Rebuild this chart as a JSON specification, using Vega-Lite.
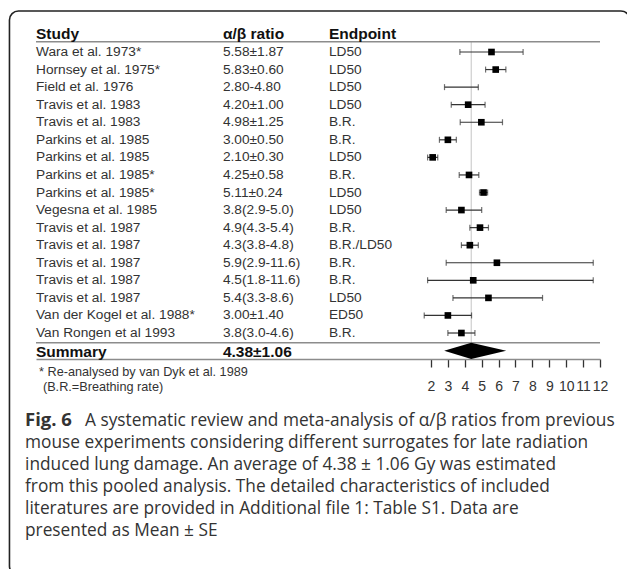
{
  "$schema": "https://vega.github.io/schema/vega-lite/v6.json",
  "autosize": "none",
  "width": 564,
  "height": 359,
  "padding": {"left": 36, "top": 0, "right": 27, "bottom": 210},
  "background": "white",
  "config": {"view": {"stroke": null}, "text": {"font": "Liberation Sans"}},
  "data": {"values": [
    {"row": 1, "study": "Wara et al. 1973*", "ratio": "5.58±1.87", "endpoint": "LD50", "est": 5.58, "lo": 3.71, "hi": 7.45},
    {"row": 2, "study": "Hornsey et al. 1975*", "ratio": "5.83±0.60", "endpoint": "LD50", "est": 5.83, "lo": 5.23, "hi": 6.43},
    {"row": 3, "study": "Field et al. 1976", "ratio": "2.80-4.80", "endpoint": "LD50", "est": null, "lo": 2.80, "hi": 4.80},
    {"row": 4, "study": "Travis et al. 1983", "ratio": "4.20±1.00", "endpoint": "LD50", "est": 4.20, "lo": 3.20, "hi": 5.20},
    {"row": 5, "study": "Travis et al. 1983", "ratio": "4.98±1.25", "endpoint": "B.R.", "est": 4.98, "lo": 3.73, "hi": 6.23},
    {"row": 6, "study": "Parkins et al. 1985", "ratio": "3.00±0.50", "endpoint": "B.R.", "est": 3.00, "lo": 2.50, "hi": 3.50},
    {"row": 7, "study": "Parkins et al. 1985", "ratio": "2.10±0.30", "endpoint": "LD50", "est": 2.10, "lo": 1.80, "hi": 2.40},
    {"row": 8, "study": "Parkins et al. 1985*", "ratio": "4.25±0.58", "endpoint": "B.R.", "est": 4.25, "lo": 3.67, "hi": 4.83},
    {"row": 9, "study": "Parkins et al. 1985*", "ratio": "5.11±0.24", "endpoint": "LD50", "est": 5.11, "lo": 4.87, "hi": 5.35},
    {"row": 10, "study": "Vegesna et al. 1985", "ratio": "3.8(2.9-5.0)", "endpoint": "LD50", "est": 3.8, "lo": 2.9, "hi": 5.0},
    {"row": 11, "study": "Travis et al. 1987", "ratio": "4.9(4.3-5.4)", "endpoint": "B.R.", "est": 4.9, "lo": 4.3, "hi": 5.4},
    {"row": 12, "study": "Travis et al. 1987", "ratio": "4.3(3.8-4.8)", "endpoint": "B.R./LD50", "est": 4.3, "lo": 3.8, "hi": 4.8},
    {"row": 13, "study": "Travis et al. 1987", "ratio": "5.9(2.9-11.6)", "endpoint": "B.R.", "est": 5.9, "lo": 2.9, "hi": 11.6},
    {"row": 14, "study": "Travis et al. 1987", "ratio": "4.5(1.8-11.6)", "endpoint": "B.R.", "est": 4.5, "lo": 1.8, "hi": 11.6},
    {"row": 15, "study": "Travis et al. 1987", "ratio": "5.4(3.3-8.6)", "endpoint": "LD50", "est": 5.4, "lo": 3.3, "hi": 8.6},
    {"row": 16, "study": "Van der Kogel et al. 1988*", "ratio": "3.00±1.40", "endpoint": "ED50", "est": 3.00, "lo": 1.60, "hi": 4.40},
    {"row": 17, "study": "Van Rongen et al 1993", "ratio": "3.8(3.0-4.6)", "endpoint": "B.R.", "est": 3.8, "lo": 3.0, "hi": 4.6}
  ]},
  "layer": [
    {
      "data": {"values": [{}]},
      "mark": {"type": "rect", "fill": null, "filled": false, "stroke": "#222222", "strokeWidth": 1.6, "cornerRadius": 9},
      "encoding": {
        "x": {"datum": -22.94, "type": "quantitative", "title": null,
              "scale": {"domain": [-21.37, 12], "nice": false, "zero": false},
              "axis": {"values": [2, 3, 4, 5, 6, 7, 8, 9, 10, 11, 12], "title": null, "grid": false,
                       "domainColor": "#8c8c8c", "domainWidth": 1.5, "tickColor": "#333333", "tickWidth": 1.3,
                       "tickSize": 8, "labelFont": "Liberation Sans", "labelFontSize": 14, "labelColor": "#333333",
                       "labelPadding": 12, "labelOverlap": false, "labelFlush": false, "labelBound": false}},
        "x2": {"datum": 13.77},
        "y": {"datum": -1.335, "type": "quantitative", "title": null,
              "scale": {"domain": [-1.961, 18.48], "nice": false, "zero": false, "reverse": true}, "axis": null},
        "y2": {"datum": 30.78}
      }
    },
    {
      "data": {"values": [{}]},
      "mark": {"type": "rule", "color": "#c4c4c4", "strokeWidth": 1},
      "encoding": {
        "x": {"datum": 4.38, "type": "quantitative", "title": null},
        "y": {"datum": 0.413, "type": "quantitative", "axis": null},
        "y2": {"datum": 18.48}
      }
    },
    {
      "data": {"values": [{}]},
      "mark": {"type": "rule", "color": "#8c8c8c", "strokeWidth": 1.5},
      "encoding": {
        "x": {"datum": -21.37, "type": "quantitative", "title": null},
        "x2": {"datum": 12},
        "y": {"datum": 0.413, "type": "quantitative", "axis": null}
      }
    },
    {
      "data": {"values": [{}]},
      "mark": {"type": "rule", "color": "#8c8c8c", "strokeWidth": 1.5},
      "encoding": {
        "x": {"datum": -21.37, "type": "quantitative", "title": null},
        "x2": {"datum": 12},
        "y": {"datum": 17.55, "type": "quantitative", "axis": null}
      }
    },
    {
      "mark": {"type": "rule", "color": "#333333", "strokeWidth": 1.2},
      "encoding": {
        "x": {"field": "lo", "type": "quantitative", "title": null},
        "x2": {"field": "hi"},
        "y": {"field": "row", "type": "quantitative", "axis": null}
      }
    },
    {
      "mark": {"type": "tick", "orient": "vertical", "color": "#333333", "size": 6, "thickness": 1.2},
      "encoding": {
        "x": {"field": "lo", "type": "quantitative", "title": null},
        "y": {"field": "row", "type": "quantitative", "axis": null}
      }
    },
    {
      "mark": {"type": "tick", "orient": "vertical", "color": "#333333", "size": 6, "thickness": 1.2},
      "encoding": {
        "x": {"field": "hi", "type": "quantitative", "title": null},
        "y": {"field": "row", "type": "quantitative", "axis": null}
      }
    },
    {
      "mark": {"type": "point", "shape": "square", "filled": true, "color": "#000000", "size": 44, "opacity": 1},
      "encoding": {
        "x": {"field": "est", "type": "quantitative", "title": null},
        "y": {"field": "row", "type": "quantitative", "axis": null}
      }
    },
    {
      "data": {"values": [
        {"x": 2.78, "top": 18.01, "bottom": 18.01},
        {"x": 4.38, "top": 17.55, "bottom": 18.48},
        {"x": 6.45, "top": 18.01, "bottom": 18.01}
      ]},
      "mark": {"type": "area", "color": "#000000", "opacity": 1},
      "encoding": {
        "x": {"field": "x", "type": "quantitative", "title": null},
        "y": {"field": "top", "type": "quantitative", "axis": null},
        "y2": {"field": "bottom"}
      }
    },
    {
      "mark": {"type": "text", "align": "left", "baseline": "middle", "fontSize": 13.7, "color": "#333333"},
      "encoding": {
        "x": {"datum": -21.37, "type": "quantitative", "title": null},
        "y": {"field": "row", "type": "quantitative", "axis": null},
        "text": {"field": "study"}
      }
    },
    {
      "mark": {"type": "text", "align": "left", "baseline": "middle", "fontSize": 13.7, "color": "#333333"},
      "encoding": {
        "x": {"datum": -10.31, "type": "quantitative", "title": null},
        "y": {"field": "row", "type": "quantitative", "axis": null},
        "text": {"field": "ratio"}
      }
    },
    {
      "mark": {"type": "text", "align": "left", "baseline": "middle", "fontSize": 13.7, "color": "#333333"},
      "encoding": {
        "x": {"datum": -4.04, "type": "quantitative", "title": null},
        "y": {"field": "row", "type": "quantitative", "axis": null},
        "text": {"field": "endpoint"}
      }
    },
    {
      "data": {"values": [{}]},
      "mark": {"type": "text", "align": "left", "baseline": "middle", "fontSize": 15.5, "fontWeight": "bold", "color": "#111111"},
      "encoding": {
        "x": {"datum": -21.37, "type": "quantitative", "title": null},
        "y": {"datum": -0.04, "type": "quantitative", "axis": null},
        "text": {"value": "Study"}
      }
    },
    {
      "data": {"values": [{}]},
      "mark": {"type": "text", "align": "left", "baseline": "middle", "fontSize": 15.5, "fontWeight": "bold", "color": "#111111"},
      "encoding": {
        "x": {"datum": -10.31, "type": "quantitative", "title": null},
        "y": {"datum": -0.04, "type": "quantitative", "axis": null},
        "text": {"value": "α/β ratio"}
      }
    },
    {
      "data": {"values": [{}]},
      "mark": {"type": "text", "align": "left", "baseline": "middle", "fontSize": 15.5, "fontWeight": "bold", "color": "#111111"},
      "encoding": {
        "x": {"datum": -4.04, "type": "quantitative", "title": null},
        "y": {"datum": -0.04, "type": "quantitative", "axis": null},
        "text": {"value": "Endpoint"}
      }
    },
    {
      "data": {"values": [{}]},
      "mark": {"type": "text", "align": "left", "baseline": "middle", "fontSize": 15.5, "fontWeight": "bold", "color": "#111111"},
      "encoding": {
        "x": {"datum": -21.37, "type": "quantitative", "title": null},
        "y": {"datum": 18.07, "type": "quantitative", "axis": null},
        "text": {"value": "Summary"}
      }
    },
    {
      "data": {"values": [{}]},
      "mark": {"type": "text", "align": "left", "baseline": "middle", "fontSize": 15.5, "fontWeight": "bold", "color": "#111111"},
      "encoding": {
        "x": {"datum": -10.31, "type": "quantitative", "title": null},
        "y": {"datum": 18.07, "type": "quantitative", "axis": null},
        "text": {"value": "4.38±1.06"}
      }
    },
    {
      "data": {"values": [{}]},
      "mark": {"type": "text", "align": "left", "baseline": "middle", "fontSize": 12.7, "color": "#333333"},
      "encoding": {
        "x": {"datum": -21.19, "type": "quantitative", "title": null},
        "y": {"datum": 19.22, "type": "quantitative", "axis": null},
        "text": {"value": "* Re-analysed by van Dyk et al. 1989"}
      }
    },
    {
      "data": {"values": [{}]},
      "mark": {"type": "text", "align": "left", "baseline": "middle", "fontSize": 12.7, "color": "#333333"},
      "encoding": {
        "x": {"datum": -20.96, "type": "quantitative", "title": null},
        "y": {"datum": 20.07, "type": "quantitative", "axis": null},
        "text": {"value": "(B.R.=Breathing rate)"}
      }
    },
    {
      "data": {"values": [{}]},
      "mark": {"type": "text", "align": "left", "baseline": "alphabetic", "font": "Open Sans", "fontSize": 18.5, "fontWeight": "bold", "color": "#333333"},
      "encoding": {
        "x": {"datum": -22.02, "type": "quantitative", "title": null},
        "y": {"datum": 22.294, "type": "quantitative", "axis": null},
        "text": {"value": "Fig. 6"}
      }
    },
    {
      "data": {"values": [{}]},
      "mark": {"type": "text", "align": "left", "baseline": "alphabetic", "font": "Open Sans", "fontSize": 17.3, "color": "#333333"},
      "encoding": {
        "x": {"datum": -18.47, "type": "quantitative", "title": null},
        "y": {"datum": 22.294, "type": "quantitative", "axis": null},
        "text": {"value": "A systematic review and meta-analysis of α/β ratios from previous"}
      }
    },
    {
      "data": {"values": [{}]},
      "mark": {"type": "text", "align": "left", "baseline": "alphabetic", "font": "Open Sans", "fontSize": 17.3, "lineHeight": 22, "color": "#333333"},
      "encoding": {
        "x": {"datum": -22.02, "type": "quantitative", "title": null},
        "y": {"datum": 23.547, "type": "quantitative", "axis": null},
        "text": {"value": [
          "mouse experiments considering different surrogates for late radiation",
          "induced lung damage. An average of 4.38 ± 1.06 Gy was estimated",
          "from this pooled analysis. The detailed characteristics of included",
          "literatures are provided in Additional file 1: Table S1. Data are",
          "presented as Mean ± SE"
        ]}
      }
    }
  ]
}
